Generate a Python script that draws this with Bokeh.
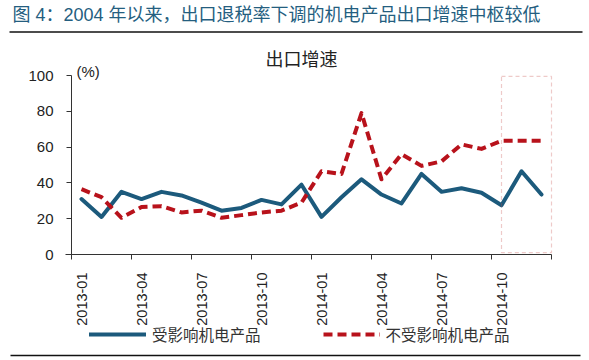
import math
from bokeh.plotting import figure
from bokeh.models import (Range1d, FixedTicker, Label, BoxAnnotation,
                          Legend, LegendItem, ColumnDataSource)
from bokeh.embed import file_html
from bokeh.resources import INLINE

# ---------------- data ----------------
months = ["2013-01", "2013-02", "2013-03", "2013-04", "2013-05", "2013-06",
          "2013-07", "2013-08", "2013-09", "2013-10", "2013-11", "2013-12",
          "2014-01", "2014-02", "2014-03", "2014-04", "2014-05", "2014-06",
          "2014-07", "2014-08", "2014-09", "2014-10", "2014-11", "2014-12"]
affected = [31, 21, 35, 31, 35, 33, 29, 24.5, 26, 30.5, 28, 39,
            21, 32, 42, 33.5, 28.5, 45, 35, 37, 34.5, 27.5, 46.5, 33.5]
unaffected = [36.5, 32, 20.5, 26.5, 27, 23.5, 24.5, 20.5, 22, 23.5, 24.5, 29,
              46.5, 45, 79, 42, 56, 49.5, 52, 61.5, 59, 63.5, 63.5, 63.5]
series_names = ["受影响机电产品", "不受影响机电产品"]
y_ticks = [0, 20, 40, 60, 80, 100]
y_max = 100
highlight_from = "2014-10"
label_step = 3

fig_title = "图 4：2004 年以来，出口退税率下调的机电产品出口增速中枢较低"
chart_title = "出口增速"
unit_label = "(%)"

# ---------------- layout (pixels) ----------------
LAT = "Liberation Sans, Noto Sans CJK SC"
CJK = "Noto Sans CJK SC"
W, H = 589, 360
AX_LEFT, AX_RIGHT = 71, 551      # x pixel of first / last month boundary
AX_BOTTOM, AX_TOP = 254, 75      # y pixel of value 0 / value 100
RULES = [(9, 582, 31.5), (10, 580, 355)]   # decorative horizontal rules (x0, x1, y) in px

n = len(months)
ppx = (AX_RIGHT - AX_LEFT) / n
ppy = (AX_BOTTOM - AX_TOP) / y_max


def px_x(px):
    return (px - AX_LEFT) / ppx


def px_y(py):
    return (AX_BOTTOM - py) / ppy


# The plot frame fills the whole canvas; axes sit at fixed data locations.
p = figure(width=W, height=H, output_backend="svg", toolbar_location=None,
           x_range=Range1d(px_x(0), px_x(W)), y_range=Range1d(px_y(H), px_y(0)),
           min_border=0)
p.outline_line_color = None
p.grid.grid_line_color = None
p.background_fill_color = "white"
p.border_fill_color = "white"

x = [i + 0.5 for i in range(n)]
src = ColumnDataSource(dict(x=x, a=affected, u=unaffected))

r_a = p.line("x", "a", source=src, line_color="#1c5a7c", line_width=4,
             line_join="round", line_cap="round")
r_u = p.line("x", "u", source=src, line_color="#b8121b", line_width=4,
             line_dash="9 5", line_join="round")

# highlight box
hi = months.index(highlight_from) + 0.5
p.add_layout(BoxAnnotation(left=hi, right=n, bottom=1, top=99.5,
                           fill_alpha=0, line_color="#c8504d", line_width=1.2,
                           line_dash="4 3"))

# decorative rules under the heading and at the foot
for rx0, rx1, ry in RULES:
    p.add_layout(BoxAnnotation(left=px_x(rx0), right=px_x(rx1),
                               top=px_y(ry - 0.65), bottom=px_y(ry + 0.65),
                               fill_color="#111111", fill_alpha=1,
                               line_color=None))

# y axis
ya = p.yaxis[0]
ya.fixed_location = 0
ya.bounds = (0, y_max)
ya.ticker = FixedTicker(ticks=y_ticks)
ya.minor_tick_line_color = None
ya.major_tick_in = 0
ya.major_tick_out = 5
ya.axis_line_color = "#333333"
ya.major_tick_line_color = "#333333"
ya.major_label_text_font = LAT
ya.major_label_text_font_size = "15px"
ya.major_label_text_color = "#222222"
ya.major_label_standoff = 13

# x axis: labels at month centres, tick marks (minor) at quarter boundaries
lab_pos = [i + 0.5 for i in range(0, n, label_step)]
xa = p.xaxis[0]
xa.fixed_location = 0
xa.bounds = (-0.3, n)
xa.ticker = FixedTicker(ticks=lab_pos,
                        minor_ticks=list(range(0, n + 1, label_step)))
xa.major_label_overrides = {t: months[int(t)] for t in lab_pos}
xa.major_tick_line_color = None
xa.major_tick_in = 0
xa.major_tick_out = 0
xa.minor_tick_in = 0
xa.minor_tick_out = 5
xa.minor_tick_line_color = "#333333"
xa.axis_line_color = "#333333"
xa.major_label_orientation = math.pi / 2
xa.major_label_text_font = LAT
xa.major_label_text_font_size = "14.5px"
xa.major_label_text_color = "#222222"
xa.major_label_standoff = 13

# texts (screen units: x from left, y upwards from the bottom)
p.add_layout(Label(x=12, y=H - 14.5, x_units="screen", y_units="screen",
                   text=fig_title, text_font=LAT, text_font_size="18px",
                   text_color="#245e7f", text_baseline="middle"))
p.add_layout(Label(x=301, y=H - 57.5, x_units="screen", y_units="screen",
                   text=chart_title, text_font=CJK, text_font_size="18px",
                   text_color="#222222", text_align="center",
                   text_baseline="middle"))
p.add_layout(Label(x=76, y=H - 71, x_units="screen", y_units="screen",
                   text=unit_label, text_font=LAT, text_font_size="15px",
                   text_color="#222222", text_align="left",
                   text_baseline="middle"))

legend = Legend(items=[LegendItem(label=series_names[0], renderers=[r_a]),
                       LegendItem(label=series_names[1], renderers=[r_u])],
                orientation="horizontal", location=(89, 15),
                glyph_width=57, glyph_height=18, label_standoff=6, spacing=62,
                padding=2, margin=0, background_fill_alpha=0,
                border_line_color=None, label_text_font=CJK,
                label_text_font_size="15.5px", label_text_color="#333333")
p.add_layout(legend, "center")

open("out.html", "w").write(file_html(p, INLINE))
